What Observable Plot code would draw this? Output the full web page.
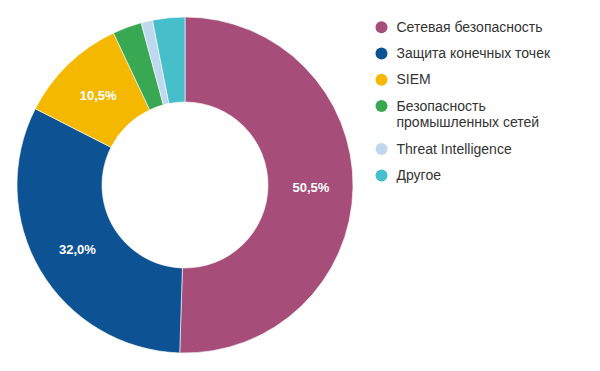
<!DOCTYPE html>
<html><head><meta charset="utf-8">
<script src="https://cdn.jsdelivr.net/npm/d3@7"></script>
<script src="https://cdn.jsdelivr.net/npm/@observablehq/plot@0.6"></script>
<style>body{margin:0;background:#fff}</style>
</head><body><div id="chart"></div>
<script>
const categories = ["Сетевая безопасность", "Защита конечных точек", "SIEM", "Безопасность\nпромышленных сетей", "Threat Intelligence", "Другое"];
const values = [50.5, 32.0, 10.5, 2.8, 1.1, 3.1];
const colors = ["#a64e79", "#0d5293", "#f5b800", "#38a853", "#bed8ef", "#46bfca"];
const labelMinimum = 5;

const W = 600, H = 371;
const cx = 185, cy = 185, R = 168, R0 = 83;
const data = categories.map((c, i) => ({category: c, value: values[i], color: colors[i]}));
const pie = d3.pie().sort(null).value(d => d.value)(data);
const arc = d3.arc().innerRadius(R0).outerRadius(R);
const fmt = v => v.toFixed(1).replace(".", ",") + "%";

const labels = pie.filter(p => p.data.value >= labelMinimum).map(p => {
  const [x, y] = arc.centroid(p);
  return {x: cx + x, y: cy + y, text: fmt(p.data.value)};
});

// legend rows
const legendX = 381, legendTop = 26.7, rowGap = 26.3, lineGap = 16.7;
const legendDots = [], legendLines = [];
let ly = legendTop;
data.forEach(d => {
  legendDots.push({x: legendX, y: ly, color: d.color});
  const parts = d.category.split("\n");
  parts.forEach((t, k) => legendLines.push({x: legendX + 15, y: ly + k * lineGap, text: t}));
  ly += rowGap + (parts.length - 1) * lineGap;
});

const donut = (index, scales, values, dimensions, context) => {
  const g = d3.create("svg:g").attr("transform", `translate(${cx},${cy})`);
  g.selectAll("path").data(pie).join("path")
    .attr("d", arc)
    .attr("fill", p => p.data.color)
    .attr("stroke", "#fff")
    .attr("stroke-width", 0.6);
  return g.node();
};

const chart = Plot.plot({
  width: W, height: H,
  margin: 0,
  x: {type: "identity", axis: null},
  y: {type: "identity", axis: null},
  style: {fontFamily: "'Liberation Sans', Arial, sans-serif", fontSize: "14px", background: "#fff"},
  marks: [
    donut,
    Plot.text(labels, {x: "x", y: "y", text: "text", fill: "#fff", fontWeight: "bold", fontSize: 13}),
    Plot.dot(legendDots, {x: "x", y: "y", r: 6, fill: "color", stroke: null}),
    Plot.text(legendLines, {x: "x", y: "y", text: "text", textAnchor: "start", fill: "#333", fontSize: 14})
  ]
});
document.getElementById("chart").append(chart);
</script>
</body></html>
